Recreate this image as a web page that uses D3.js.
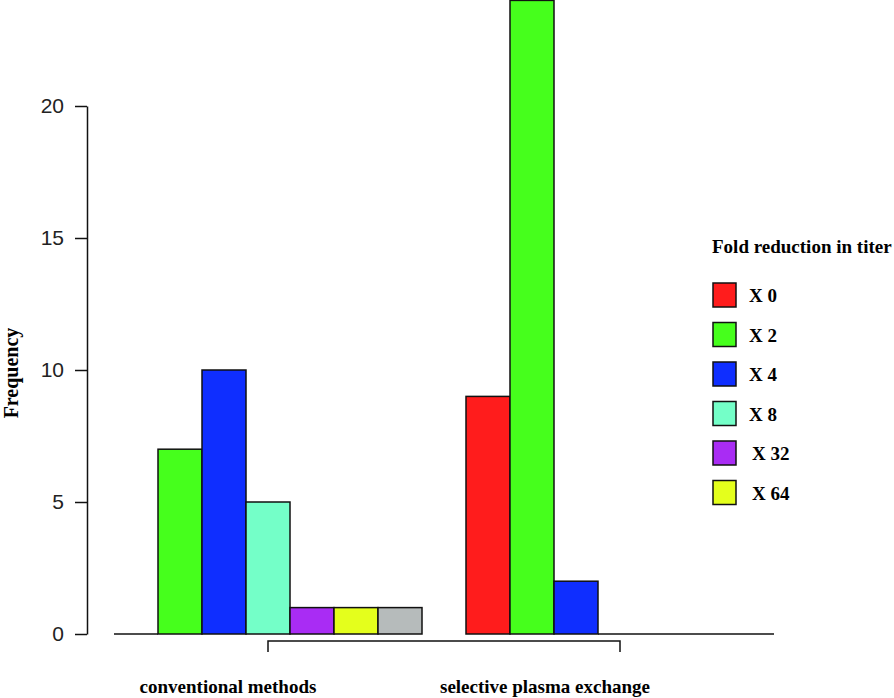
<!DOCTYPE html>
<html>
<head>
<meta charset="utf-8">
<script src="https://cdn.jsdelivr.net/npm/d3@7"></script>
<style>
  body { margin: 0; background: #fff; }
  svg { display: block; }
  .bold { font-family: "Liberation Serif", "Times New Roman", serif; font-weight: bold; }
</style>
</head>
<body>
<svg id="chart" width="894" height="698"></svg>
<script>
// data
const groups = ["conventional methods", "selective plasma exchange"];
const categories = ["X 0", "X 2", "X 4", "X 8", "X 32", "X 64", "other"];
const conventional = [0, 7, 10, 5, 1, 1, 1];
const selective = [9, 24, 2, 0, 0, 0, 0];
const legendLabels = ["X 0", "X 2", "X 4", "X 8", "X 32", "X 64"];
const yTicks = [0, 5, 10, 15, 20];
const colors = ["#ff1c1c", "#46ff1c", "#0f2eff", "#74ffc8", "#a92cf4", "#e4ff1c", "#b6bbbb"];

const svg = d3.select("#chart");

// one slot per bar, with one empty slot between the groups
const slotsPerGroup = categories.length + 1;
const x = d3.scaleLinear()
    .domain([0, slotsPerGroup * groups.length - 1])
    .range([114, 774]);
const y = d3.scaleLinear()
    .domain([0, 20])
    .range([634, 106]);

const series = [conventional, selective];
const bars = [];
series.forEach((vals, g) => {
    vals.forEach((v, i) => bars.push({ g, i, v, slot: g * slotsPerGroup + i }));
});

const barW = x(1) - x(0);
svg.append("g").selectAll("rect")
    .data(bars.filter(d => d.v > 0))
    .join("rect")
    .attr("x", d => x(d.slot))
    .attr("width", barW)
    .attr("y", d => y(d.v))
    .attr("height", d => y(0) - y(d.v))
    .attr("fill", d => colors[d.i])
    .attr("stroke", "#111")
    .attr("stroke-width", 1.5);

// zero-height bars still show their outline as a flat line
svg.append("g").selectAll("line")
    .data(bars.filter(d => d.v === 0))
    .join("line")
    .attr("x1", d => x(d.slot))
    .attr("x2", d => x(d.slot) + barW)
    .attr("y1", y(0))
    .attr("y2", y(0))
    .attr("stroke", "#111")
    .attr("stroke-width", 1.5);

// y axis
const yAxis = svg.append("g")
    .attr("transform", "translate(87,0)")
    .call(d3.axisLeft(y).tickValues(yTicks).tickSize(12).tickSizeOuter(0).tickPadding(11));
yAxis.select(".domain").attr("stroke", "#111").attr("stroke-width", 1.5);
yAxis.selectAll(".tick line").attr("stroke", "#111").attr("stroke-width", 1.5);
yAxis.selectAll(".tick text")
    .attr("font-family", "'Liberation Sans', Arial, sans-serif")
    .attr("font-size", 21)
    .attr("fill", "#222");

svg.append("text")
    .attr("class", "bold")
    .attr("transform", "translate(18,373) rotate(-90)")
    .attr("text-anchor", "middle")
    .attr("font-size", 20)
    .text("Frequency");

// bracket joining group centres
const centre = g => x(g * slotsPerGroup + categories.length / 2);
const c0 = centre(0), c1 = centre(1);
svg.append("path")
    .attr("d", `M${c0},652V641H${c1}V652`)
    .attr("fill", "none")
    .attr("stroke", "#111")
    .attr("stroke-width", 1.5);

svg.append("text").attr("class", "bold")
    .attr("x", 228).attr("y", 693)
    .attr("text-anchor", "middle").attr("font-size", 19)
    .text(groups[0]);
svg.append("text").attr("class", "bold")
    .attr("x", 545).attr("y", 693)
    .attr("text-anchor", "middle").attr("font-size", 19)
    .text(groups[1]);

// legend
const legend = svg.append("g");
legend.append("text").attr("class", "bold")
    .attr("x", 712).attr("y", 253)
    .attr("font-size", 19)
    .text("Fold reduction in titer");

const items = legend.selectAll("g.item")
    .data(legendLabels)
    .join("g")
    .attr("class", "item")
    .attr("transform", (d, i) => `translate(713,${283 + i * 39.5})`);
items.append("rect")
    .attr("width", 23).attr("height", 24)
    .attr("fill", (d, i) => colors[i])
    .attr("stroke", "#111").attr("stroke-width", 1.5);
items.append("text").attr("class", "bold")
    .attr("x", (d, i) => i < 4 ? 36 : 39)
    .attr("y", 19)
    .attr("font-size", 19)
    .text(d => d);
</script>
</body>
</html>
